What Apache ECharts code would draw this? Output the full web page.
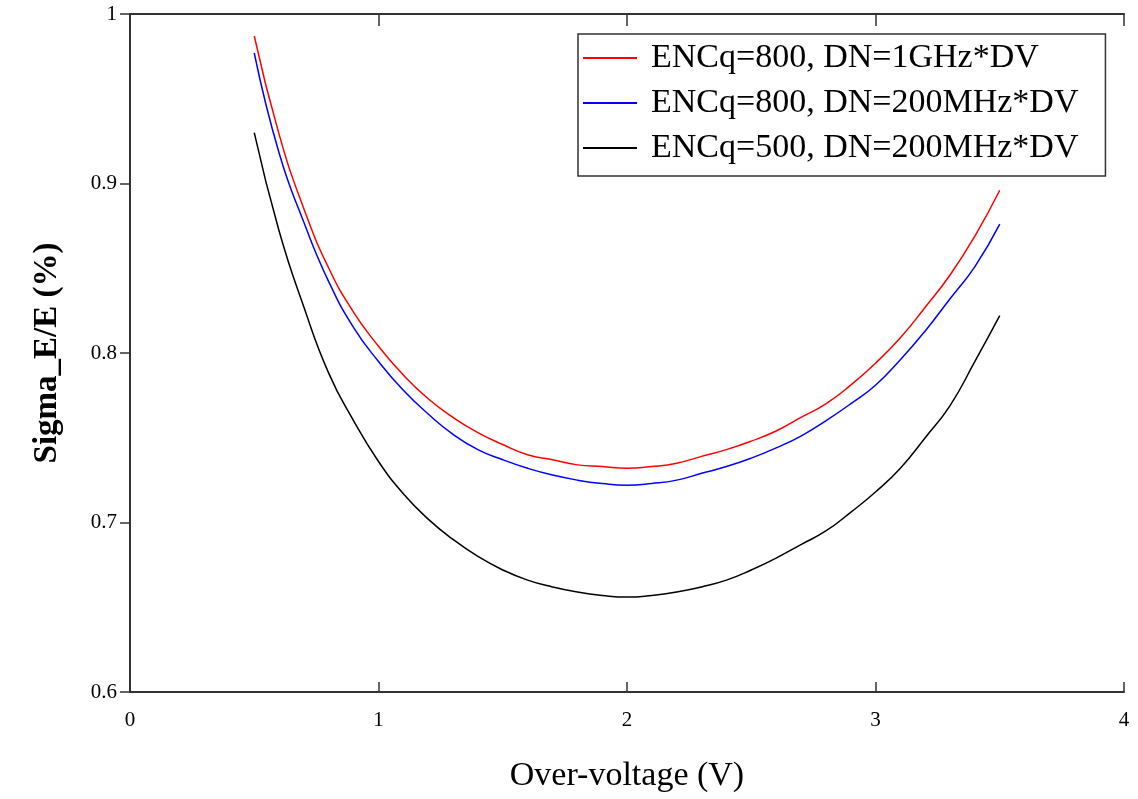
<!DOCTYPE html>
<html>
<head>
<meta charset="utf-8">
<script src="https://cdn.jsdelivr.net/npm/echarts@6/dist/echarts.min.js"></script>
<style>html,body{margin:0;padding:0;background:#fff;}#c{width:1138px;height:799px;}</style>
</head>
<body>
<div id="c"></div>
<script>
const xValues = [0.5,0.6,0.7,0.8,0.9,1.0,1.1,1.2,1.3,1.4,1.5,1.6,1.7,1.8,1.9,2.0,2.1,2.2,2.3,2.4,2.5,2.6,2.7,2.8,2.9,3.0,3.1,3.2,3.3,3.4,3.5];
const redValues = [0.987,0.929,0.885,0.850,0.824,0.804,0.787,0.773,0.762,0.753,0.746,0.740,0.737,0.734,0.733,0.732,0.733,0.735,0.739,0.743,0.748,0.754,0.762,0.770,0.781,0.794,0.809,0.827,0.846,0.869,0.896];
const blueValues = [0.977,0.918,0.877,0.842,0.815,0.795,0.778,0.764,0.752,0.743,0.737,0.732,0.728,0.725,0.723,0.722,0.723,0.725,0.729,0.733,0.738,0.744,0.751,0.760,0.770,0.781,0.796,0.813,0.832,0.851,0.876];
const blackValues = [0.930,0.872,0.827,0.788,0.760,0.736,0.717,0.702,0.690,0.680,0.672,0.666,0.662,0.659,0.657,0.656,0.657,0.659,0.662,0.666,0.672,0.679,0.687,0.695,0.706,0.718,0.732,0.750,0.769,0.795,0.822];
const seriesNames = ['ENCq=800, DN=1GHz*DV','ENCq=800, DN=200MHz*DV','ENCq=500, DN=200MHz*DV'];
const seriesColors = ['#ff0000','#0000ff','#000000'];
const xTicks = [0,1,2,3,4];
const yTicks = [0.6,0.7,0.8,0.9,1];

const pairs = v => xValues.map((x,i)=>[x,v[i]]);
const font = 'Liberation Serif';
const axisLine = {show:true, lineStyle:{color:'#333', width:2}};
const tick = len => ({show:true, inside:true, length:len, lineStyle:{color:'#333', width:1.5}});

const chart = echarts.init(document.getElementById('c'));
chart.setOption({
  animation:false,
  backgroundColor:'#fff',
  grid:{left:130, right:14, top:14, bottom:107},
  legend:{
    left:578, top:34, orient:'vertical',
    padding:[7,27,11,5], itemGap:11, itemWidth:54, itemHeight:2,
    borderColor:'#333', borderWidth:1.5, backgroundColor:'#fff',
    textStyle:{fontFamily:font, fontSize:34, color:'#000', padding:[0,0,0,9]},
    data:seriesNames.map(n=>({name:n, icon:'rect'}))
  },
  xAxis:[
    {type:'value', min:0, max:4, interval:1, position:'bottom',
     axisLine:axisLine, axisTick:tick(10), splitLine:{show:false},
     axisLabel:{fontFamily:font, fontSize:21, color:'#000', margin:18, formatter:v=>xTicks.includes(v)?String(v):''},
     name:'Over-voltage (V)', nameLocation:'middle', nameGap:67,
     nameTextStyle:{fontFamily:font, fontSize:34, color:'#000'}},
    {type:'value', min:0, max:4, interval:1, position:'top',
     axisLine:axisLine, axisTick:tick(12), splitLine:{show:false}, axisLabel:{show:false}}
  ],
  yAxis:[
    {type:'value', min:0.6, max:1, interval:0.1, position:'left',
     axisLine:axisLine, axisTick:{show:false}, splitLine:{show:false},
     axisLabel:{fontFamily:font, fontSize:21, color:'#000', margin:13, formatter:v=>{const t=yTicks.find(y=>Math.abs(y-v)<1e-9);return t===undefined?'':String(t);}},
     name:'Sigma_E/E (%)', nameLocation:'middle', nameGap:66,
     nameTextStyle:{fontFamily:font, fontSize:33, fontWeight:'bold', color:'#000'}},
    {type:'value', min:0.6, max:1, interval:0.1, position:'right',
     axisLine:axisLine, axisTick:tick(10), splitLine:{show:false}, axisLabel:{show:false}}
  ],
  series:[redValues, blueValues, blackValues].map((v,i)=>({
    name:seriesNames[i], type:'line', data:pairs(v), smooth:true, showSymbol:false, symbol:'none',
    lineStyle:{color:seriesColors[i], width:1.5}, itemStyle:{color:seriesColors[i]}
  }))
});
</script>
</body>
</html>
